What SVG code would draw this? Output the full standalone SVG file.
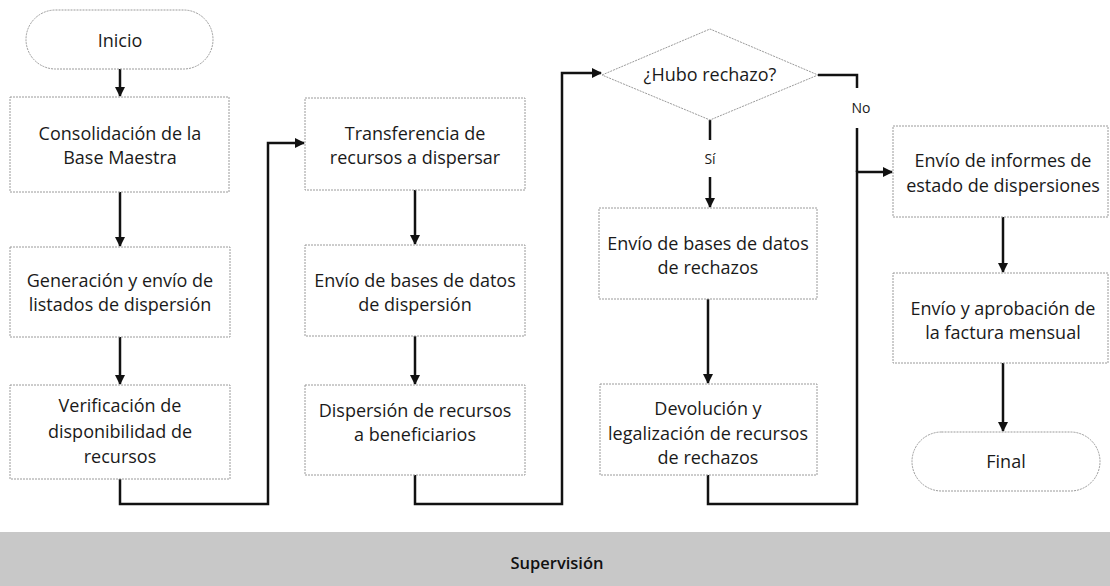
<svg xmlns="http://www.w3.org/2000/svg" width="1110" height="586" viewBox="0 0 1110 586">
<style>
.box{fill:#fff;stroke:#9a9a9a;stroke-width:1;stroke-dasharray:2 1}
.t{font-family:"Open Sans","Liberation Sans",sans-serif;font-size:18px;fill:#1a1a1a;text-anchor:middle}
.lbl{font-family:"Open Sans","Liberation Sans",sans-serif;font-size:14px;fill:#1a1a1a;text-anchor:middle}
.c{fill:none;stroke:#111;stroke-width:2.5}
.band{fill:#c8c8c8}
.bt{font-family:"Open Sans","Liberation Sans",sans-serif;font-size:16.5px;font-weight:600;fill:#111;text-anchor:middle}
</style>
<defs>
<marker id="ah" viewBox="0 0 10 10" refX="9" refY="5" markerWidth="4" markerHeight="4" orient="auto" markerUnits="strokeWidth">
<path d="M0,0 L10,5 L0,10 z" fill="#111"/>
</marker>
</defs>
<rect width="1110" height="586" fill="#fff"/>
<g id="supervision">
<rect class="band" x="0" y="532" width="1110" height="54"/>
<text class="bt" x="557" y="569">Supervisión</text>
</g>
<g id="connectors">
<path class="c" d="M120,69 V96" marker-end="url(#ah)"/>
<path class="c" d="M120,192 V246" marker-end="url(#ah)"/>
<path class="c" d="M120,337 V384" marker-end="url(#ah)"/>
<path class="c" d="M120,479 V504 H268 V143 H304" marker-end="url(#ah)"/>
<path class="c" d="M415,190 V244" marker-end="url(#ah)"/>
<path class="c" d="M415,336 V384" marker-end="url(#ah)"/>
<path class="c" d="M415,475 V504 H562 V73 H601" marker-end="url(#ah)"/>
<path class="c" d="M710,120 V140"/>
<path class="c" d="M710,177 V207" marker-end="url(#ah)"/>
<path class="c" d="M708,299 V383" marker-end="url(#ah)"/>
<path class="c" d="M708,475 V504 H857 V172 H892" marker-end="url(#ah)"/>
<path class="c" d="M818,75 H857 V88"/>
<path class="c" d="M857,128 V172"/>
<path class="c" d="M1003,217 V272" marker-end="url(#ah)"/>
<path class="c" d="M1003,363 V431" marker-end="url(#ah)"/>
<text class="lbl" x="710" y="164">Sí</text>
<text class="lbl" x="861" y="113">No</text>
</g>
<g id="inicio">
<rect class="box" x="26" y="10" width="187" height="59" rx="29.5"/>
<text class="t" x="120" y="47">Inicio</text>
</g>
<g id="consolidacion">
<rect class="box" x="10" y="97" width="219" height="95"/>
<text class="t" x="120" y="140">Consolidación de la</text>
<text class="t" x="120" y="164">Base Maestra</text>
</g>
<g id="generacion">
<rect class="box" x="10" y="247" width="220" height="90"/>
<text class="t" x="120" y="287">Generación y envío de</text>
<text class="t" x="120" y="311">listados de dispersión</text>
</g>
<g id="verificacion">
<rect class="box" x="10" y="385" width="220" height="94"/>
<text class="t" x="120" y="412">Verificación de</text>
<text class="t" x="120" y="438">disponibilidad de</text>
<text class="t" x="120" y="463">recursos</text>
</g>
<g id="transferencia">
<rect class="box" x="305" y="98" width="220" height="92"/>
<text class="t" x="415" y="140">Transferencia de</text>
<text class="t" x="415" y="164">recursos a dispersar</text>
</g>
<g id="envio-bases">
<rect class="box" x="305" y="245" width="220" height="91"/>
<text class="t" x="415" y="287">Envío de bases de datos</text>
<text class="t" x="415" y="311">de dispersión</text>
</g>
<g id="dispersion">
<rect class="box" x="305" y="385" width="220" height="90"/>
<text class="t" x="415" y="417">Dispersión de recursos</text>
<text class="t" x="415" y="441">a beneficiarios</text>
</g>
<g id="decision">
<polygon class="box" points="602,75 710,29 818,75 710,120"/>
<text class="t" x="710" y="81">¿Hubo rechazo?</text>
</g>
<g id="envio-rechazos">
<rect class="box" x="599" y="208" width="218" height="91"/>
<text class="t" x="708" y="250">Envío de bases de datos</text>
<text class="t" x="708" y="274">de rechazos</text>
</g>
<g id="devolucion">
<rect class="box" x="600" y="384" width="217" height="91"/>
<text class="t" x="708" y="415">Devolución y</text>
<text class="t" x="708" y="440">legalización de recursos</text>
<text class="t" x="708" y="464">de rechazos</text>
</g>
<g id="informes">
<rect class="box" x="893" y="126" width="215" height="91"/>
<text class="t" x="1003" y="167">Envío de informes de</text>
<text class="t" x="1003" y="192">estado de dispersiones</text>
</g>
<g id="factura">
<rect class="box" x="893" y="273" width="215" height="90"/>
<text class="t" x="1003" y="315">Envío y aprobación de</text>
<text class="t" x="1003" y="339">la factura mensual</text>
</g>
<g id="final">
<rect class="box" x="912" y="432" width="188" height="59" rx="29.5"/>
<text class="t" x="1006" y="468">Final</text>
</g>
</svg>
